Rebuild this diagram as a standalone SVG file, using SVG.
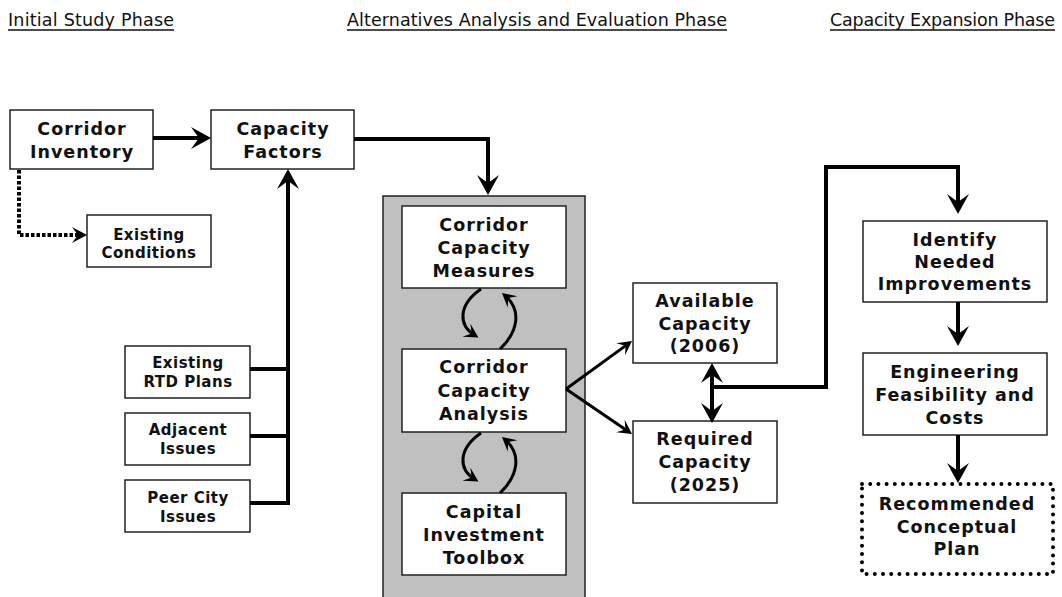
<svg xmlns="http://www.w3.org/2000/svg" width="1062" height="597" viewBox="0 0 1062 597">
<style>
.hdr{font-family:"DejaVu Sans",Verdana,sans-serif;font-size:17.5px;fill:#111}
.ul{stroke:#111;stroke-width:1.5}
.box{fill:#fff;stroke:#222;stroke-width:1.5}
.big{font-family:"DejaVu Sans",Verdana,sans-serif;font-weight:bold;font-size:17.5px;letter-spacing:1px;fill:#111;text-anchor:middle}
.sm{font-family:"DejaVu Sans",Verdana,sans-serif;font-weight:bold;font-size:15px;letter-spacing:0.5px;fill:#111;text-anchor:middle}
.thick{fill:none;stroke:#000;stroke-width:4;stroke-linejoin:miter}
.thin{fill:none;stroke:#000;stroke-width:3}
.dash{fill:none;stroke:#000;stroke-width:4;stroke-dasharray:3.5 2}
</style>
<defs>
<marker id="ah" markerUnits="userSpaceOnUse" viewBox="-20 -11 21 22" markerWidth="21" markerHeight="22" refX="-6" refY="0" orient="auto" overflow="visible"><path d="M0,0 L-20,-11 L-12,0 L-20,11 Z" fill="#000"/></marker>
<marker id="ahs" markerUnits="userSpaceOnUse" viewBox="-20 -11 21 22" markerWidth="21" markerHeight="22" refX="-6" refY="0" orient="auto-start-reverse" overflow="visible"><path d="M0,0 L-20,-11 L-12,0 L-20,11 Z" fill="#000"/></marker>
<marker id="am" markerUnits="userSpaceOnUse" viewBox="-16 -9 17 18" markerWidth="17" markerHeight="18" refX="-5" refY="0" orient="auto" overflow="visible"><path d="M0,0 L-15,-8 L-9,0 L-15,8 Z" fill="#000"/></marker>
<marker id="as" markerUnits="userSpaceOnUse" viewBox="-14 -8 15 16" markerWidth="15" markerHeight="16" refX="-4" refY="0" orient="auto" overflow="visible"><path d="M0,0 L-14,-7.5 L-8,0 L-14,7.5 Z" fill="#000"/></marker>
</defs>

<g id="headers">
<text class="hdr" x="8" y="26" textLength="166" lengthAdjust="spacing">Initial Study Phase</text>
<line class="ul" x1="8" y1="30" x2="174" y2="30"/>
<text class="hdr" x="347" y="26" textLength="380" lengthAdjust="spacing">Alternatives Analysis and Evaluation Phase</text>
<line class="ul" x1="347" y1="30" x2="727" y2="30"/>
<text class="hdr" x="830" y="26" textLength="225" lengthAdjust="spacing">Capacity Expansion Phase</text>
<line class="ul" x1="830" y1="30" x2="1055" y2="30"/>
</g>

<g id="panel">
<rect x="383" y="196" width="202" height="410" fill="#c0c0c0" stroke="#222" stroke-width="1.5"/>
</g>

<g id="corridor-inventory">
<rect class="box" x="10" y="110" width="143" height="59"/>
<text class="big" x="82" y="135">Corridor</text>
<text class="big" x="82" y="158">Inventory</text>
</g>
<g id="capacity-factors">
<rect class="box" x="211" y="110" width="143" height="59"/>
<text class="big" x="283" y="135">Capacity</text>
<text class="big" x="283" y="158">Factors</text>
</g>
<g id="existing-conditions">
<rect class="box" x="87" y="215" width="124" height="52"/>
<text class="sm" x="149" y="240">Existing</text>
<text class="sm" x="149" y="258">Conditions</text>
</g>
<g id="existing-rtd-plans">
<rect class="box" x="125" y="346" width="125" height="52"/>
<text class="sm" x="188" y="368">Existing</text>
<text class="sm" x="188" y="387">RTD Plans</text>
</g>
<g id="adjacent-issues">
<rect class="box" x="125" y="413" width="125" height="52"/>
<text class="sm" x="188" y="435">Adjacent</text>
<text class="sm" x="188" y="454">Issues</text>
</g>
<g id="peer-city-issues">
<rect class="box" x="125" y="480" width="125" height="52"/>
<text class="sm" x="188" y="503">Peer City</text>
<text class="sm" x="188" y="522">Issues</text>
</g>

<g id="corridor-capacity-measures">
<rect class="box" x="402" y="206" width="164" height="82"/>
<text class="big" x="484" y="231">Corridor</text>
<text class="big" x="484" y="254">Capacity</text>
<text class="big" x="484" y="277">Measures</text>
</g>
<g id="corridor-capacity-analysis">
<rect class="box" x="402" y="349" width="164" height="83"/>
<text class="big" x="484" y="373">Corridor</text>
<text class="big" x="484" y="397">Capacity</text>
<text class="big" x="484" y="420">Analysis</text>
</g>
<g id="capital-investment-toolbox">
<rect class="box" x="402" y="493" width="164" height="82"/>
<text class="big" x="484" y="518">Capital</text>
<text class="big" x="484" y="541">Investment</text>
<text class="big" x="484" y="564">Toolbox</text>
</g>

<g id="available-capacity">
<rect class="box" x="633" y="283" width="144" height="80"/>
<text class="big" x="705" y="307">Available</text>
<text class="big" x="705" y="330">Capacity</text>
<text class="big" x="705" y="352">(2006)</text>
</g>
<g id="required-capacity">
<rect class="box" x="633" y="421" width="144" height="82"/>
<text class="big" x="705" y="445">Required</text>
<text class="big" x="705" y="468">Capacity</text>
<text class="big" x="705" y="491">(2025)</text>
</g>

<g id="identify-needed-improvements">
<rect class="box" x="863" y="221" width="184" height="81"/>
<text class="big" x="955" y="246">Identify</text>
<text class="big" x="955" y="268">Needed</text>
<text class="big" x="955" y="290">Improvements</text>
</g>
<g id="engineering-feasibility">
<rect class="box" x="863" y="353" width="184" height="82"/>
<text class="big" x="955" y="378">Engineering</text>
<text class="big" x="955" y="401">Feasibility and</text>
<text class="big" x="955" y="424">Costs</text>
</g>
<g id="recommended-conceptual-plan">
<rect x="862" y="484" width="191" height="90" fill="#fff" stroke="#000" stroke-width="4" stroke-linecap="round" stroke-dasharray="0 8.2"/>
<text class="big" x="957" y="510">Recommended</text>
<text class="big" x="957" y="533">Conceptual</text>
<text class="big" x="957" y="555">Plan</text>
</g>

<g id="connectors">
<path class="thick" d="M153,138 H205" marker-end="url(#ah)"/>
<path class="thick" d="M354,139 H488 V189" marker-end="url(#ah)"/>
<path class="thick" d="M250,369 H288"/>
<path class="thick" d="M250,436 H288"/>
<path class="thick" d="M250,503 H288 V175" marker-end="url(#ah)"/>
<path class="dash" d="M19,170 V235 H82" marker-end="url(#am)"/>
<path class="thin" d="M566,389 L628.8,343.4" marker-end="url(#as)"/>
<path class="thin" d="M566,389 L628.7,431.7" marker-end="url(#as)"/>
<path class="thin" d="M481,289 C458,305 458,325 475,335.5" marker-end="url(#as)"/>
<path class="thin" d="M500,349 C518,332 522,310 505,295.5" marker-end="url(#as)"/>
<path class="thin" d="M481,433 C458,449 458,469 475,479.5" marker-end="url(#as)"/>
<path class="thin" d="M500,493 C518,476 522,454 505,439.5" marker-end="url(#as)"/>
<path class="thick" d="M712,369 V417" marker-start="url(#ahs)" marker-end="url(#ah)"/>
<path class="thick" d="M712,387 H826 V167 H958 V208" marker-end="url(#ah)"/>
<path class="thick" d="M958,302 V340" marker-end="url(#ah)"/>
<path class="thick" d="M958,435 V477" marker-end="url(#ah)"/>
</g>
</svg>
